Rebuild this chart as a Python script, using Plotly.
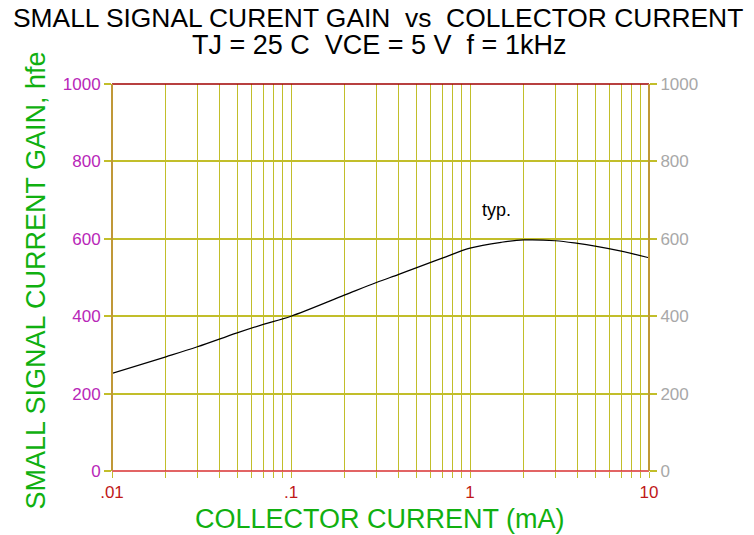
import math
import plotly.graph_objects as go

current_ma = [0.01, 0.02, 0.03, 0.05, 0.07, 0.1, 0.2, 0.3, 0.4, 0.5, 0.7, 1.0, 1.5, 2.0, 3.0, 4.0, 5.0, 7.0, 10.0]
hfe_typ = [252, 295, 321, 357, 379, 400, 455, 487, 508, 525, 550, 576, 591, 597, 595, 588, 581, 568, 551]

x_major = [0.01, 0.1, 1, 10]
x_major_text = [".01", ".1", "1", "10"]
y_ticks = [0, 200, 400, 600, 800, 1000]

title_line1 = "SMALL SIGNAL CURENT GAIN  vs  COLLECTOR CURRENT"
title_line2 = "TJ = 25 C  VCE = 5 V  f = 1kHz"
x_title = "COLLECTOR CURRENT (mA)"
y_title = "SMALL SIGNAL CURRENT GAIN, hfe"
note_text = "typ."
note_x, note_y = 1.4, 675

# all grid positions on the log axis (1..9 per decade)
x_grid = []
x_grid_text = []
for dec in [0.01, 0.1, 1]:
    for m in range(1, 10):
        v = round(dec * m, 4)
        x_grid.append(v)
        x_grid_text.append(x_major_text[x_major.index(dec)] if m == 1 else "")
x_grid.append(10)
x_grid_text.append("10")

FONT = "Liberation Sans, Arial, sans-serif"
GRID = "#c2be2a"
GREEN = "#10b010"

fig = go.Figure()
fig.add_trace(go.Scatter(x=current_ma, y=hfe_typ, mode="lines",
                         line=dict(color="black", width=1.2, shape="spline", smoothing=1.0),
                         showlegend=False, hoverinfo="x+y"))
fig.add_trace(go.Scatter(x=[current_ma[0]], y=[hfe_typ[0]], mode="markers", yaxis="y2",
                         marker=dict(opacity=0), showlegend=False, hoverinfo="skip"))

fig.update_layout(
    width=754, height=535,
    margin=dict(l=112, r=105, t=84, b=64, autoexpand=False),
    paper_bgcolor="white", plot_bgcolor="white",
    font=dict(family=FONT),
    xaxis=dict(type="log", range=[-2, 1], tickvals=x_grid, ticktext=x_grid_text,
               showgrid=True, gridcolor=GRID, gridwidth=1,
               ticks="outside", ticklen=6, tickcolor=GRID, tickwidth=1,
               tickfont=dict(size=17, color="#c01818", family=FONT),
               zeroline=False, showline=False, automargin=False),
    yaxis=dict(range=[0, 1000], tickvals=y_ticks, showgrid=True, gridcolor=GRID, gridwidth=1.5,
               ticks="outside", ticklen=7, tickcolor=GRID, tickwidth=1.5,
               tickfont=dict(size=17, color="#b826b8", family=FONT),
               zeroline=False, showline=False, automargin=False),
    yaxis2=dict(range=[0, 1000], tickvals=y_ticks, overlaying="y", side="right", showgrid=False,
                ticks="outside", ticklen=7, tickcolor=GRID, tickwidth=1.5,
                tickfont=dict(size=17, color="#a8a8a8", family=FONT),
                zeroline=False, showline=False, automargin=False),
    shapes=[
        dict(type="line", xref="paper", yref="paper", x0=0, x1=1, y0=1, y1=1,
             line=dict(color="#a00000", width=1.5)),
        dict(type="line", xref="paper", yref="paper", x0=0, x1=1, y0=0, y1=0,
             line=dict(color="#d83030", width=1.5)),
        dict(type="line", xref="paper", yref="paper", x0=0, x1=0, y0=0, y1=1,
             line=dict(color="#c09838", width=2)),
        dict(type="line", xref="paper", yref="paper", x0=1, x1=1, y0=0, y1=1,
             line=dict(color="#c09838", width=2)),
    ],
    annotations=[
        dict(x=math.log10(note_x), y=note_y, xref="x", yref="y", text=note_text, showarrow=False,
             font=dict(size=18, color="black", family=FONT)),
        dict(x=0.4955, y=1.1718, xref="paper", yref="paper", text=title_line1, showarrow=False,
             xanchor="center", yanchor="middle", font=dict(size=26.4, color="black", family=FONT)),
        dict(x=0.497, y=1.0995, xref="paper", yref="paper", text=title_line2, showarrow=False,
             xanchor="center", yanchor="middle", font=dict(size=27, color="black", family=FONT)),
        dict(x=0.499, y=-0.124, xref="paper", yref="paper", text=x_title, showarrow=False,
             xanchor="center", yanchor="middle", font=dict(size=27, color=GREEN, family=FONT)),
        dict(x=-0.1415, y=0.492, xref="paper", yref="paper", text=y_title, showarrow=False,
             textangle=-90, xanchor="center", yanchor="middle",
             font=dict(size=27, color=GREEN, family=FONT)),
    ],
)

fig.write_html("out.html", config={"displayModeBar": False},
               post_script="document.body.style.margin='0';")
